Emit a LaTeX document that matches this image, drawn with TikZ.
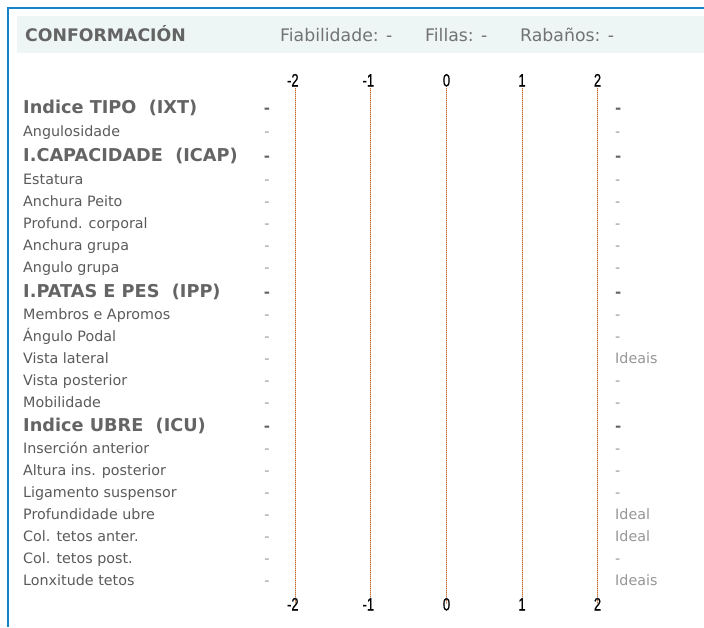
\documentclass[tikz,border=0pt]{standalone}
\usepackage{fontspec}
\setmainfont{DejaVu Sans}
\newfontfamily\axisfont[FakeBold=0.6]{Liberation Sans}
\definecolor{frameblue}{RGB}{20,132,200}
\definecolor{bandbg}{RGB}{238,245,245}
\definecolor{txt}{RGB}{90,90,90}
\definecolor{hdrtxt}{RGB}{100,100,100}
\definecolor{hdrlight}{RGB}{115,115,115}
\definecolor{dashc}{RGB}{150,150,150}
\definecolor{gridc}{RGB}{215,105,35}
\definecolor{gridbase}{RGB}{200,190,180}
\tikzset{
  lbl/.style={anchor=base west,inner sep=0pt,text=txt,font=\fontsize{14.3}{16}\selectfont},
  blbl/.style={anchor=base west,inner sep=0pt,text=hdrtxt,font=\fontsize{17.7}{20}\selectfont\bfseries},
  ldash/.style={anchor=base,inner sep=0pt,text=dashc,font=\fontsize{14.3}{16}\selectfont},
  bdash/.style={anchor=base,inner sep=0pt,text=hdrtxt,font=\fontsize{15}{17}\selectfont\bfseries},
  rtxt/.style={anchor=base west,inner sep=0pt,text=dashc,font=\fontsize{14.3}{16}\selectfont},
  brtxt/.style={anchor=base west,inner sep=0pt,text=hdrtxt,font=\fontsize{15}{17}\selectfont\bfseries},
  axlbl/.style={anchor=base,inner sep=0pt,text=black,font=\axisfont\fontsize{18}{20}\selectfont},
  gridbaseline/.style={draw=gridbase,line width=1pt},
  gridline/.style={draw=gridc,line width=1pt,dash pattern=on 1pt off 1pt},
  frameline/.style={draw=frameblue,line width=2pt}
}
\newcommand{\axnum}[1]{\scalebox{0.72}[1]{#1}}
\begin{document}
\begin{tikzpicture}[x=1pt,y=-1pt]
\useasboundingbox (0,0) rectangle (704,627);
% frame
\fill[bandbg] (17,16) rectangle (704,53);
\coordinate (ftop) at (704,8);
\coordinate (fcorner) at (8,8);
\coordinate (fbot) at (8,627);
\draw[frameline] (ftop) -- (fcorner) -- (fbot);
% header
\node[anchor=base west,inner sep=0pt,text=hdrtxt,font=\fontsize{17.3}{19}\selectfont\bfseries] (title) at (25,41.5) {CONFORMACIÓN};
\node[anchor=base west,inner sep=0pt,text=hdrlight,font=\fontsize{17.3}{19}\selectfont] (fiab) at (280,41.5) {Fiabilidade: -};
\node[anchor=base west,inner sep=0pt,text=hdrlight,font=\fontsize{17.3}{19}\selectfont] (fillas) at (425,41.5) {Fillas: -};
\node[anchor=base west,inner sep=0pt,text=hdrlight,font=\fontsize{17.3}{19}\selectfont] (rab) at (520,41.5) {Rabaños: -};
% axis grid lines
\foreach \xx [count=\i] in {295.5,370.5,446.5,522.5,597.5}{
  \coordinate (gt\i) at (\xx,88);
  \coordinate (gb\i) at (\xx,604);
  \draw[gridbaseline] (gt\i) -- (gb\i);
  \draw[gridline] (gt\i) -- (gb\i);
}
% axis labels
\foreach \v/\xx [count=\i] in {\llap{-}2/295,\llap{-}1/370.5,0/446.5,1/522,2/597.5}{
  \node[axlbl] (t\i) at (\xx,86.5) {\axnum{\v}};
  \node[axlbl] (b\i) at (\xx,610.5) {\axnum{\v}};
}
% bold group rows
\foreach \t/\yy [count=\i] in {Indice TIPO\ \ (IXT)/113,I.CAPACIDADE\ \ (ICAP)/161.5,I.PATAS E PES\ \ (IPP)/297,Indice UBRE\ \ (ICU)/431}{
  \node[blbl] (g\i) at (23,\yy) {\t};
  \node[bdash] (gl\i) at (267,\yy) {-};
  \node[brtxt] (gr\i) at (615,\yy) {-};
}
% normal rows
\foreach \t/\yy/\r [count=\i] in {
  Angulosidade/136/-,
  Estatura/184/-,
  Anchura Peito/206/-,
  Profund. corporal/228/-,
  Anchura grupa/250/-,
  Angulo grupa/272/-,
  Membros e Apromos/319/-,
  Ángulo Podal/341/-,
  Vista lateral/363/Ideais,
  Vista posterior/385/-,
  Mobilidade/407/-,
  Inserción anterior/453/-,
  Altura ins. posterior/475/-,
  Ligamento suspensor/497/-,
  Profundidade ubre/519/Ideal,
  Col. tetos anter./541/Ideal,
  Col. tetos post./563/-,
  Lonxitude tetos/585/Ideais}{
  \node[lbl] (r\i) at (23,\yy) {\t};
  \node[ldash] (rl\i) at (267,\yy) {-};
  \node[rtxt] (rr\i) at (615,\yy) {\r};
}
\end{tikzpicture}
\end{document}
